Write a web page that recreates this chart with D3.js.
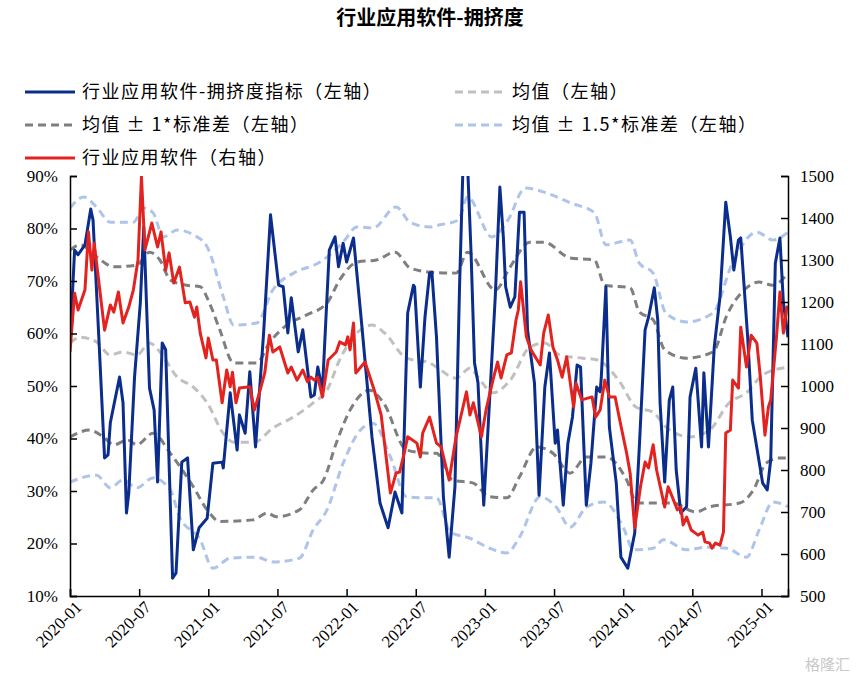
<!DOCTYPE html>
<html><head><meta charset="utf-8">
<script src="https://cdn.jsdelivr.net/npm/d3@7"></script>
<style>body{margin:0;background:#fff}</style></head>
<body><svg id="c" width="861" height="678"></svg>
<script>
// months since 2020-01 (t) and values
const crowdT=[0,0.4,0.7,1.3,1.8,2.0,2.5,3.0,3.3,3.5,4.3,4.6,4.9,5.1,5.6,6.1,6.4,6.9,7.3,7.6,8.0,8.3,8.9,9.2,9.7,10.2,10.7,11.2,11.9,12.4,13.2,13.3,13.9,14.5,14.7,15.2,15.6,16.1,16.8,17.4,18.1,18.5,18.9,19.2,19.8,20.2,20.9,21.2,21.5,21.9,22.5,23.0,23.3,23.7,24.0,24.3,24.6,25.3,26.2,26.9,27.6,28.2,28.8,29.3,29.8,29.9,30.4,30.8,31.2,31.4,31.8,32.4,32.9,33.4,33.8,34.1,34.5,34.8,35.1,35.4,35.9,36.3,36.9,37.3,37.6,37.8,38.2,38.6,39.0,39.4,39.7,40.3,40.7,41.2,41.6,42.1,42.3,42.8,43.2,43.6,44.0,44.3,44.8,45.2,45.7,46.0,46.1,46.5,46.8,47.4,47.8,48.4,49.0,49.4,49.9,50.2,50.7,51.0,51.2,51.6,52.0,52.3,52.6,53.0,53.5,53.8,54.3,54.8,55.0,55.4,55.9,56.4,56.9,57.3,57.6,58.0,58.2,58.8,59.2,60.1,60.5,60.8,61.2,61.6,61.9,62.3];
const crowdV=[58.2,75.9,75,76.9,83.7,81.6,59.3,36.3,36.9,43,51.7,46.8,25.8,29.6,51.7,65.8,80.3,49.6,45.4,31.7,58.2,56.9,13.4,14.4,35.5,36.3,18.8,23,24.8,35.3,35.5,34.4,48.7,37.8,44.5,41,52.7,38.4,60.1,82.6,69.2,68.9,60.1,66.8,56.5,60.7,47.9,48.3,53.6,49.2,75.9,78.4,72.7,77.2,73.6,75.9,78.2,62,40.3,27.7,23,29.8,25.8,63.9,69.2,68.9,49.8,63.1,71.5,71.7,59.3,28.9,17.4,30.8,68.9,92,92,75.3,54.4,50.6,27.3,43,67,87.9,78.4,68.9,65,67,83.1,83.1,60.7,50.6,29.2,49.8,56.3,39.1,41.6,27.3,39.1,44.1,54,53.6,27.3,35.3,49.8,48.9,51.7,68.9,42.2,31.5,17.4,15.3,22,38.4,60.7,63.1,68.7,62.6,46.8,31.7,47.3,49.8,34,25.8,27,47.9,53.4,38.4,52.5,38.4,57.4,67,85,78.4,72.1,77.8,78.2,59.3,43.5,31.5,30.2,35.9,73.4,78.2,65.8,59.3];
const priceT=[0,0.4,0.7,1.3,1.6,1.9,2.1,3.0,3.5,3.8,4.2,4.6,5.1,5.5,5.9,6.2,6.5,7.1,7.6,7.9,8.3,8.6,9.0,9.5,10.0,10.4,10.8,11.0,11.3,11.8,12.0,12.4,12.7,13.2,13.6,13.9,14.1,14.4,14.7,15.6,16.0,16.5,16.9,17.3,17.6,18.2,18.9,19.2,19.7,20.2,20.6,20.9,21.2,21.5,21.9,22.4,23.1,23.4,23.9,24.1,24.3,24.6,24.8,25.6,26.4,27.0,27.8,28.3,28.6,29.0,29.3,30.1,30.4,30.6,31.2,31.8,32.2,32.9,33.5,34.1,34.4,34.7,35.0,35.7,36.1,36.7,37.1,37.4,37.9,38.3,38.7,38.9,39.1,39.6,40.0,40.8,41.1,41.5,41.9,42.3,42.7,43.1,43.7,43.9,44.4,45.3,45.6,46.0,46.4,46.8,47.3,47.7,48.3,48.6,49.0,49.5,49.9,50.2,50.6,50.9,51.6,51.9,52.3,52.7,53.0,53.2,53.5,53.9,54.5,54.9,55.1,55.5,55.7,56.0,56.4,56.7,56.9,57.3,57.5,58.0,58.2,58.7,59.1,59.6,59.9,60.3,60.6,60.8,61.3,61.6,61.9,62.2,62.3];
const priceV=[1081,1221,1181,1229,1367,1276,1340,1133,1193,1176,1224,1150,1188,1229,1300,1498,1324,1388,1331,1367,1276,1317,1245,1283,1198,1200,1164,1188,1126,1067,1114,1062,1062,960,1038,998,1033,960,995,998,943,990,1031,1121,1081,1093,1031,1045,1014,1038,1010,1021,1014,1021,974,1062,1081,1105,1098,1117,1086,1150,1031,1057,990,931,745,793,795,840,879,864,831,888,926,864,855,776,879,950,986,931,960,879,943,1014,1057,1019,1074,1079,1157,1181,1248,1117,1086,1050,1126,1169,1093,1062,1021,1069,950,1007,967,974,926,943,1014,974,974,919,840,793,662,760,819,805,860,800,712,760,733,705,712,669,688,657,645,652,629,626,614,626,621,652,888,895,1014,995,1140,1045,1121,1102,1021,883,950,967,1117,1224,1126,1188,1181];
const meanT=[0,0.9,2.3,3.5,4.6,5.8,6.9,7.8,9.3,10.7,11.9,13.3,14.2,16,17.6,19.4,21.1,22.3,23.4,25.2,26.2,27.3,29.2,31.2,31.8,33.5,34.7,35.4,36.7,38.2,39.9,41.2,42.5,44.5,45.7,47.7,49.1,50.6,51.7,53.8,55.5,57.2,58.7,60.1,62.3];
const meanV=[58.2,59.3,58.4,55.9,56.5,55.9,58.2,56.5,51.7,49.8,46.8,41,39.3,39.3,42,44.1,46.8,49.2,55,60.7,61.6,60.1,55.3,54.4,53.6,51.5,53.4,51.7,48.7,51.1,57.4,58.2,55.9,55.3,55,50.8,46,45,42.2,40.3,41.6,46.8,48.7,52.1,53.6];
const up1T=[0,0.9,2.3,3.8,5.8,6.9,7.8,8.7,10.1,11.3,12.1,13,14.2,16.2,17.3,18.8,20.5,22.3,23.4,24.9,26.6,28.2,29.5,31.2,33.5,34.5,36.9,38.2,39.9,41.1,43.4,45.5,46.4,48.6,49.4,50.6,51.6,53.5,55.8,57,58.5,59.8,61,62.3];
const up1V=[75.9,76.9,74.6,72.7,73,75.5,74,70.2,69.2,68.9,65.8,60.7,54.4,54.4,58.2,61.6,63.5,65.8,70.2,73.6,74,75.5,72.5,71.7,71.5,75.5,68.3,72.7,77.4,77.4,74.4,74,69.2,68.7,64.1,62.6,56.9,55.3,56.5,63.5,68.3,69.8,69.2,71.5];
const lo1T=[0,1.7,2.9,3.8,5,5.8,7.2,8.7,10.7,11.9,13,15.9,17.1,17.9,19.9,21.1,22,23.1,24.3,26,27.2,29.2,31.2,31.8,33.2,35,36.4,37.9,39,40.5,41.9,43.4,44.8,46.5,48.3,49.2,52.3,54.3,55.5,58.1,59.3,60.4,61.6,62.3];
const lo1V=[40.3,41.6,40.3,38.8,39.7,38.8,41,37.2,30.8,26.4,24.2,24.5,25.8,25.1,26.4,30.2,32.1,39.1,45.4,49.2,46.8,37.8,37.2,37.2,32.1,31.5,28.9,28.7,32.7,38.4,37.2,33.4,36.5,36.5,32.1,27.7,27.7,26,27,27.7,30.2,35.3,36.3,36.3];
const up15T=[0,1.2,2.3,3.5,5.5,6.4,7.2,8.1,9.3,10.7,11.9,13.3,14.2,16.2,17.6,19.4,21.7,23.7,24.9,26.3,28.3,29.5,31.2,32.1,33.7,34.5,36.6,38,39.5,41.3,43.4,45.5,46.5,48.6,49.4,50.6,51.7,53.5,55.8,57.4,59.6,61,62.3];
const up15V=[83.9,86,84.1,81.2,81.2,83.9,83,78.4,79.7,78.8,76.5,67,61.6,62,68.3,71.5,73.6,77.4,80.3,80.1,84.1,81.2,80.3,80.7,81.6,86,78.4,81.6,87.7,86.8,84.9,83,76.9,77.8,73.4,71.5,63.9,62.2,63.9,73,79.3,77.8,79.3];
const lo15T=[0,2.3,3.5,4.6,5.8,7.2,8.7,9.5,11.3,12.4,13.9,16.2,17.6,19.9,21.1,22.3,23.7,25.2,26.3,27.8,29.2,31.2,31.8,33,34.7,36.4,37.9,39,40.8,42.2,43.4,44.8,46.3,48,48.9,50.6,51.5,53.5,55.2,57,58.7,59.8,61,62.3];
const lo15V=[31.7,33,30.6,32.1,30.6,32.5,30.2,25.1,20.7,15.3,17.2,17.4,16.5,17.2,22.6,26.4,35.3,41.6,42.9,36.5,28.9,28.7,28.7,22.2,21,19.1,18.2,21.2,28.9,26.9,23.1,26.9,27.9,23.1,18.8,19.1,20.7,18.8,19.3,19.1,17.4,22.6,27.9,27];
const leftTicks=[10,20,30,40,50,60,70,80,90];
const rightTicks=[500,600,700,800,900,1000,1100,1200,1300,1400,1500];
const xTickMonths=[0,6,12,18,24,30,36,42,48,54,60];
const xTickLabels=["2020-01","2020-07","2021-01","2021-07","2022-01","2022-07","2023-01","2023-07","2024-01","2024-07","2025-01"];

const svg=d3.select("#c");
const L=70,R=788,T=176,B=596;
const x=d3.scaleLinear().domain([0,62.3]).range([L,R]);
const yL=d3.scaleLinear().domain([10,90]).range([B,T]);
const yR=d3.scaleLinear().domain([500,1500]).range([B,T]);
const serif="'Liberation Serif','Times New Roman',serif";
const cjk="'Noto Sans CJK SC',sans-serif";

svg.append("text").attr("x",430).attr("y",25).attr("text-anchor","middle").attr("font-family",cjk).attr("font-weight","bold").attr("font-size",20).text("行业应用软件-拥挤度");

svg.append("defs").append("clipPath").attr("id","clip").append("rect").attr("x",L).attr("y",T).attr("width",R-L).attr("height",B-T);
const g=svg.append("g").attr("clip-path","url(#clip)");
function draw(t,v,y,color,dash,curve){
  const data=t.map((d,i)=>[d,v[i]]);
  g.append("path").datum(data).attr("fill","none").attr("stroke",color).attr("stroke-width",3)
   .attr("stroke-dasharray",dash||null).attr("stroke-linejoin","round")
   .attr("d",d3.line().x(d=>x(d[0])).y(d=>y(d[1])).curve(curve||d3.curveLinear));
}
const dsh="8,5";
draw(up15T,up15V,yL,"#aec4e8",dsh,d3.curveMonotoneX);
draw(lo15T,lo15V,yL,"#aec4e8",dsh,d3.curveMonotoneX);
draw(meanT,meanV,yL,"#c0c0c0",dsh,d3.curveMonotoneX);
draw(up1T,up1V,yL,"#7f7f7f",dsh,d3.curveMonotoneX);
draw(lo1T,lo1V,yL,"#7f7f7f",dsh,d3.curveMonotoneX);
draw(crowdT,crowdV,yL,"#0b2d8c");
draw(priceT,priceV,yR,"#e3231f");

const ax=svg.append("g").attr("font-family",serif).attr("font-size",17);
const yAxL=d3.axisLeft(yL).tickValues(leftTicks).tickSize(-7).tickPadding(12).tickFormat(d=>d+"%");
ax.append("g").attr("transform",`translate(${L},0)`).call(yAxL);
const yAxR=d3.axisRight(yR).tickValues(rightTicks).tickSize(-7).tickPadding(12).tickFormat(d3.format("d"));
ax.append("g").attr("transform",`translate(${R},0)`).call(yAxR);
const xAx=d3.axisBottom(x).tickValues(xTickMonths).tickSize(-7).tickFormat((d,i)=>xTickLabels[i]);
const xg=ax.append("g").attr("transform",`translate(0,${B})`).call(xAx);
xg.selectAll("text").attr("text-anchor","end").attr("transform","translate(6,6) rotate(-45)").attr("dy","0.35em").attr("dx","0");
ax.selectAll(".domain,.tick line").attr("stroke","#000").attr("stroke-width",1.5);
ax.selectAll("text").attr("fill","#000").attr("font-family",serif).attr("font-size",17);

// legend
const leg=[
 {x:25,y:92,c:"#0b2d8c",d:null,t:"行业应用软件-拥挤度指标（左轴）"},
 {x:455,y:92,c:"#c0c0c0",d:dsh,t:"均值（左轴）"},
 {x:25,y:125,c:"#7f7f7f",d:dsh,t:"均值 ± 1*标准差（左轴）"},
 {x:455,y:125,c:"#aec4e8",d:dsh,t:"均值 ± 1.5*标准差（左轴）"},
 {x:25,y:158,c:"#e3231f",d:null,t:"行业应用软件（右轴）"}];
leg.forEach(l=>{
 svg.append("line").attr("x1",l.x).attr("x2",l.x+50).attr("y1",l.y).attr("y2",l.y).attr("stroke",l.c).attr("stroke-width",3).attr("stroke-dasharray",l.d);
 svg.append("text").attr("x",l.x+57).attr("y",l.y+6).attr("font-family",cjk).attr("font-size",18).attr("letter-spacing",1.5).text(l.t);
});
svg.append("text").attr("x",850).attr("y",670).attr("text-anchor","end").attr("font-family",cjk).attr("font-size",15).attr("fill","#c8c8c8").text("格隆汇");
</script></body></html>
